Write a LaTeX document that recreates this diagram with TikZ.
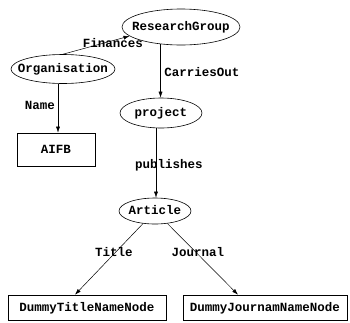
\documentclass[tikz,border=0pt]{standalone}
\usepackage{fontspec}
\newfontfamily\courfont{Liberation Mono}
\usetikzlibrary{shapes.geometric,arrows.meta}
\begin{document}
\begin{tikzpicture}[x=1pt,y=-1pt,
  txt/.style={font=\courfont\bfseries\fontsize{12.5}{14}\selectfont, text height=7pt, text depth=0pt, inner sep=0pt},
  ell/.style={txt, draw, ellipse, line width=0.6pt},
  box/.style={txt, draw, rectangle, line width=0.6pt},
  lbl/.style={txt},
  arr/.style={line width=0.5pt, -{Latex[length=6pt,width=4pt]}}]
\useasboundingbox (0,0) rectangle (350,322);
\node[ell, minimum width=118pt, minimum height=36pt] (rg) at (181,27) {\makebox[0pt]{ResearchGroup}};
\node[ell, minimum width=104pt, minimum height=29pt] (org) at (63,69) {\makebox[0pt]{Organisation}};
\node[ell, minimum width=82pt, minimum height=30pt] (project) at (161,113) {\makebox[0pt]{project}};
\node[ell, minimum width=72pt, minimum height=26pt] (article) at (155,211) {\makebox[0pt]{Article}};
\node[box, minimum width=78pt, minimum height=33pt] (aifb) at (56,149.5) {AIFB};
\node[box, minimum width=158pt, minimum height=25pt] (title) at (87,307.5) {DummyTitleNameNode};
\node[box, minimum width=164pt, minimum height=25pt] (journ) at (265,307.5) {DummyJournamNameNode};
\draw[arr] (org.north) -- (rg.190);
\draw[arr] ([xshift=2pt]org.south -| aifb.north) -- ([xshift=2pt]aifb.north);
\draw[arr] (rg.220) -- (rg.220 |- project.north);
\draw[arr] ([xshift=1pt]project.south -| article.north) -- ([xshift=1pt]article.north);
\draw[arr] (article) -- ([xshift=-12pt]title.north);
\draw[arr] (article) -- ([xshift=-27pt]journ.north);
\node[lbl] (lfin) at (113,43.5) {Finances};
\node[lbl] (lcar) at (202,72.5) {CarriesOut};
\node[lbl] (lname) at (40,105.5) {Name};
\node[lbl] (lpub) at (169,164.5) {publishes};
\node[lbl] (ltitle) at (114,253) {Title};
\node[lbl] (ljour) at (198,253) {Journal};
\end{tikzpicture}
\end{document}
